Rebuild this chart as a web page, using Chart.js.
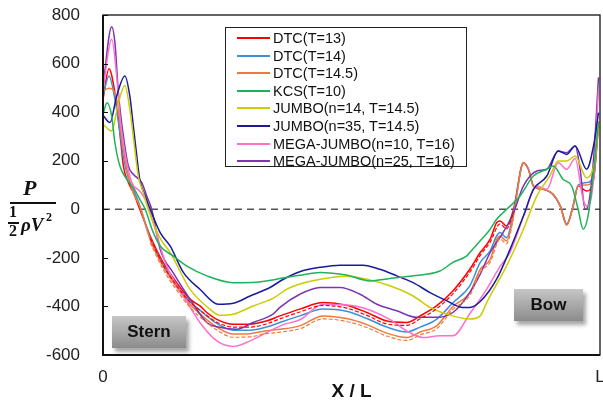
<!DOCTYPE html>
<html>
<head>
<meta charset="utf-8">
<script src="https://cdn.jsdelivr.net/npm/chart.js@4.4.1/dist/chart.umd.min.js"></script>
<style>
    html, body { margin: 0; padding: 0; background: #fff; }
    #wrap { position: relative; width: 603px; height: 403px; overflow: hidden; font-family: Arial, "Liberation Sans", sans-serif; }
    #chart { position: absolute; left: 0; top: 0; }
    .tag {
        position: absolute;
        background: linear-gradient(#c6c6c6, #8c8c8c);
        box-shadow: 3px 4px 4px rgba(0, 0, 0, 0.35);
        font-weight: bold; font-size: 17px; color: #111;
        display: flex; align-items: center; justify-content: center;
    }
    #legend {
        position: absolute; left: 225px; top: 27px; width: 240px; height: 138px;
        border: 1.5px solid #222; background: #fff;
    }
    .leg-row { position: absolute; left: 0; height: 18px; font-size: 14.5px; color: #111; white-space: nowrap; }
    .leg-line { position: absolute; left: 11px; top: 8px; width: 33px; height: 2px; }
    .leg-text { position: absolute; left: 47px; top: 0; line-height: 18px; }
    .ytitle { position: absolute; font-weight: bold; color: #111; }
    .serif { font-family: "Liberation Serif", "DejaVu Serif", serif; }
</style>
</head>
<body>
<div id="wrap">
    <canvas id="chart" width="603" height="403"></canvas>
    <div id="legend"></div>
    <div class="tag" style="left:112px; top:316px; width:74px; height:32px;">Stern</div>
    <div class="tag" style="left:514px; top:289px; width:69px; height:32px;">Bow</div>
    <!-- y axis title: P / (1/2 rho V^2) -->
    <div class="ytitle serif" style="left:23px; top:175px; font-size:22px; font-style:italic;">P</div>
    <div style="position:absolute; left:10px; top:202px; width:46px; height:2px; background:#111;"></div>
    <div class="ytitle serif" style="left:9px; top:203px; font-size:16px;">1</div>
    <div style="position:absolute; left:8px; top:222px; width:11px; height:1.5px; background:#111;"></div>
    <div class="ytitle serif" style="left:9px; top:222px; font-size:16px;">2</div>
    <div class="ytitle serif" style="left:21px; top:214px; font-size:19px; font-style:italic;">ρV</div>
    <div class="ytitle serif" style="left:46px; top:210px; font-size:12px;">2</div>
</div>
<script>
// X / L positions (shared by the three DTC runs)
const xDtc = [0, 0.012, 0.024, 0.031, 0.036, 0.041, 0.051, 0.061, 0.074, 0.095, 0.121, 0.148, 0.175, 0.195, 0.209, 0.229,
    0.262, 0.296, 0.329, 0.356, 0.396, 0.443, 0.490, 0.531, 0.571, 0.611, 0.638, 0.671, 0.704, 0.738, 0.759, 0.779,
    0.792, 0.799, 0.812, 0.826, 0.846, 0.856, 0.866, 0.886, 0.906, 0.920, 0.933, 0.946, 0.956, 0.973, 0.987, 0.997];
const yDtc13 = [453, 579, 480, 370, 274, 178, 110, 69, 0, -110, -219, -302, -370, -398, -425, -453,
    -473, -473, -460, -439, -411, -384, -395, -425, -460, -466, -439, -398, -336, -247, -178, -123,
    -55, -48, -69, 0, 192, 165, 96, 82, 60, 14, -62, 14, 96, 75, 123, 343];
const yDtc14 = [466, 549, 453, 360, 290, 215, 130, 82, 15, -118, -228, -312, -382, -415, -440, -470,
    -498, -498, -485, -466, -439, -411, -420, -450, -485, -505, -485, -453, -385, -315, -219, -171,
    -110, -96, -117, -14, 190, 165, 96, 82, 60, 14, -62, 16, 100, 110, 140, 362];
const yDtc145 = [487, 498, 480, 411, 320, 247, 137, 68, 12, -125, -235, -320, -392, -430, -455, -485,
    -514, -512, -500, -494, -480, -439, -450, -475, -510, -528, -505, -480, -400, -343, -247, -206,
    -125, -110, -130, -27, 192, 165, 96, 82, 62, 14, -66, 14, 96, 100, 130, 363];

// dashed scatter bounds seen under the DTC runs (middle part only)
const xBand = [0.095, 0.121, 0.148, 0.175, 0.209, 0.229, 0.262, 0.296, 0.329, 0.356, 0.396, 0.443, 0.490,
    0.531, 0.571, 0.611, 0.638, 0.671, 0.704, 0.738, 0.759, 0.779, 0.799, 0.812, 0.826];
const yDtc13Band = [-120, -230, -314, -382, -437, -465, -485, -485, -472, -451, -423, -396, -407,
    -437, -472, -478, -451, -410, -348, -259, -190, -135, -60, -81, -12];
const yDtc145Band = [-137, -247, -332, -404, -467, -497, -527, -525, -512, -506, -492, -451, -462,
    -487, -522, -540, -517, -492, -412, -355, -259, -218, -122, -142, -39];

const xKcs = [0, 0.008, 0.0175, 0.024, 0.034, 0.048, 0.061, 0.074, 0.085, 0.100, 0.115, 0.141, 0.168, 0.209, 0.262,
    0.309, 0.349, 0.396, 0.437, 0.490, 0.537, 0.577, 0.624, 0.678, 0.704, 0.732, 0.738, 0.759, 0.779, 0.792, 0.805,
    0.839, 0.866, 0.893, 0.906, 0.926, 0.943, 0.956, 0.966, 0.976, 0.987, 0.997];
const yKcs = [391, 439, 384, 274, 178, 123, 89, 41, 0, -90, -151, -192, -233, -274, -302,
    -300, -288, -272, -260, -271, -295, -285, -274, -254, -219, -192, -178, -130, -82, -41, -14,
    55, 137, 165, 178, 123, 96, 0, -82, -27, 151, 357];

const xJumbo14 = [0, 0.0175, 0.031, 0.044, 0.054, 0.064, 0.071, 0.081, 0.091, 0.115, 0.135, 0.175, 0.215, 0.235, 0.262,
    0.302, 0.342, 0.370, 0.396, 0.437, 0.490, 0.531, 0.577, 0.624, 0.658, 0.692, 0.738, 0.759, 0.772, 0.812,
    0.846, 0.873, 0.899, 0.916, 0.933, 0.950, 0.973, 0.990, 0.997];
const yJumbo14 = [350, 322, 439, 510, 411, 247, 137, 69, 0, -120, -177, -329, -411, -436, -432,
    -398, -367, -329, -308, -288, -276, -288, -315, -357, -404, -432, -452, -439, -384, -233,
    -82, 55, 137, 199, 199, 219, 130, 206, 343];

const xJumbo35 = [0, 0.014, 0.0275, 0.044, 0.054, 0.061, 0.068, 0.074, 0.085, 0.095, 0.115, 0.135, 0.162, 0.195, 0.232,
    0.262, 0.296, 0.336, 0.363, 0.396, 0.437, 0.477, 0.523, 0.557, 0.591, 0.624, 0.658, 0.692, 0.724, 0.738,
    0.759, 0.792, 0.819, 0.846, 0.866, 0.893, 0.916, 0.933, 0.950, 0.973, 0.987, 0.997];
const yJumbo35 = [387, 357, 466, 549, 466, 343, 219, 123, 55, 0, -96, -151, -261, -329, -391,
    -387, -357, -322, -288, -257, -239, -230, -230, -247, -274, -302, -343, -377, -404, -404,
    -380, -288, -165, -27, 82, 137, 240, 226, 261, 165, 261, 398];

const xMega10 = [0, 0.0175, 0.0275, 0.034, 0.044, 0.058, 0.074, 0.085, 0.095, 0.128, 0.162, 0.195, 0.229, 0.262, 0.296,
    0.329, 0.363, 0.396, 0.443, 0.510, 0.577, 0.611, 0.644, 0.678, 0.704, 0.738, 0.772, 0.799, 0.819, 0.846,
    0.873, 0.893, 0.916, 0.933, 0.950, 0.966, 0.973, 0.987, 0.997];
const yMega10 = [494, 700, 549, 384, 233, 110, 75, 41, -14, -233, -357, -466, -542, -565, -542,
    -508, -475, -455, -391, -399, -453, -501, -528, -521, -521, -430, -329, -235, -178, -30,
    96, 82, 192, 165, 209, 41, 14, 123, 494];

const xMega25 = [0, 0.0175, 0.024, 0.031, 0.041, 0.051, 0.061, 0.078, 0.088, 0.098, 0.115, 0.141, 0.175, 0.209, 0.235,
    0.269, 0.302, 0.342, 0.356, 0.396, 0.437, 0.477, 0.517, 0.551, 0.591, 0.631, 0.671, 0.704, 0.738, 0.759,
    0.779, 0.805, 0.826, 0.846, 0.873, 0.893, 0.916, 0.933, 0.950, 0.960, 0.970, 0.976, 0.987, 0.997];
const yMega25 = [507, 752, 686, 480, 302, 178, 144, 110, 55, 0, -165, -261, -370, -466, -486,
    -494, -466, -432, -404, -350, -322, -322, -350, -391, -418, -445, -445, -425, -343, -267,
    -178, -96, -14, 96, 158, 165, 240, 233, 261, 165, 0, 14, 206, 543];

const seriesLabels = ['DTC(T=13)', 'DTC(T=14)', 'DTC(T=14.5)', 'KCS(T=10)', 'JUMBO(n=14, T=14.5)',
    'JUMBO(n=35, T=14.5)', 'MEGA-JUMBO(n=10, T=16)', 'MEGA-JUMBO(n=25, T=16)'];
const seriesColors = ['#ff0000', '#3d8fd6', '#f07a3c', '#1fb25a', '#cccc00', '#1a1a9c', '#ff6fcf', '#7a35b0'];
const yTicks = [-600, -400, -200, 0, 200, 400, 600, 800];

const seriesX = [xDtc, xDtc, xDtc, xKcs, xJumbo14, xJumbo35, xMega10, xMega25];
const seriesY = [yDtc13, yDtc14, yDtc145, yKcs, yJumbo14, yJumbo35, yMega10, yMega25];

const toPoints = (xs, ys) => xs.map((x, k) => ({ x: x, y: ys[k] }));

// draw order: later entries on top
const drawOrder = [3, 4, 5, 6, 7, 2, 1, 0];

const datasets = [
    {
        label: 'DTC(T=14.5) band',
        data: toPoints(xBand, yDtc145Band),
        borderColor: seriesColors[2],
        borderWidth: 1.2,
        borderDash: [4, 2],
        pointRadius: 0,
        cubicInterpolationMode: 'monotone'
    },
    {
        label: 'DTC(T=13) band',
        data: toPoints(xBand, yDtc13Band),
        borderColor: seriesColors[0],
        borderWidth: 1.2,
        borderDash: [4, 2],
        pointRadius: 0,
        cubicInterpolationMode: 'monotone'
    }
].concat(drawOrder.map(i => ({
    label: seriesLabels[i],
    data: toPoints(seriesX[i], seriesY[i]),
    borderColor: seriesColors[i],
    borderWidth: 1.5,
    pointRadius: 0,
    fill: false,
    cubicInterpolationMode: 'monotone'
})));

// Legend box (HTML)
const legend = document.getElementById('legend');
seriesLabels.forEach((label, i) => {
    const row = document.createElement('div');
    row.className = 'leg-row';
    row.style.top = (1 + i * 17.6) + 'px';
    row.innerHTML = `<div class="leg-line" style="background:${seriesColors[i]}"></div><div class="leg-text">${label}</div>`;
    legend.appendChild(row);
});

// Frame, inside ticks and dashed zero line
const framePlugin = {
    id: 'frame',
    beforeDatasetsDraw(chart) {
        const { ctx, chartArea: a, scales } = chart;
        const y0 = scales.y.getPixelForValue(0);
        ctx.save();
        ctx.strokeStyle = '#555';
        ctx.lineWidth = 1.5;
        ctx.setLineDash([7, 5]);
        ctx.beginPath();
        ctx.moveTo(a.left, y0);
        ctx.lineTo(a.right, y0);
        ctx.stroke();
        ctx.restore();
    },
    afterDraw(chart) {
        const { ctx, chartArea: a, scales } = chart;
        ctx.save();
        ctx.strokeStyle = '#111';
        ctx.lineWidth = 1.3;
        ctx.strokeRect(a.left, a.top, a.right - a.left, a.bottom - a.top);
        ctx.lineWidth = 2;
        ctx.beginPath();
        ctx.moveTo(a.left, a.top);
        ctx.lineTo(a.left, a.bottom);
        ctx.lineTo(a.right, a.bottom);
        ctx.stroke();
        ctx.lineWidth = 1;
        yTicks.forEach(v => {
            const py = Math.round(scales.y.getPixelForValue(v)) + 0.5;
            ctx.beginPath();
            ctx.moveTo(a.left, py);
            ctx.lineTo(a.left + 5, py);
            ctx.stroke();
        });
        ctx.restore();
    }
};

new Chart(document.getElementById('chart'), {
    type: 'line',
    data: { datasets },
    options: {
        responsive: false,
        animation: false,
        layout: { padding: { left: 0, top: 15, right: 3, bottom: 0 } },
        plugins: { legend: { display: false }, tooltip: { enabled: false } },
        scales: {
            x: {
                type: 'linear',
                min: 0,
                max: 1,
                grid: { display: false },
                border: { display: false },
                afterBuildTicks: s => { s.ticks = [{ value: 0 }, { value: 1 }]; },
                afterFit: s => { s.height = 48; s.paddingLeft = 0; s.paddingRight = 0; },
                ticks: {
                    padding: 4,
                    color: '#222',
                    font: { family: 'Arial, "Liberation Sans"', size: 17 },
                    callback: v => (v === 0 ? '0' : 'L')
                },
                title: {
                    display: true,
                    text: 'X / L',
                    color: '#111',
                    padding: { top: 0, bottom: 0 },
                    font: { family: 'Arial, "Liberation Sans"', size: 19, weight: 'bold' }
                }
            },
            y: {
                min: -600,
                max: 800,
                grid: { display: false },
                border: { display: false },
                afterBuildTicks: s => { s.ticks = yTicks.map(v => ({ value: v })); },
                afterFit: s => { s.width = 103; s.paddingTop = 0; s.paddingBottom = 0; },
                ticks: {
                    padding: 15,
                    color: '#222',
                    font: { family: 'Arial, "Liberation Sans"', size: 17 }
                }
            }
        }
    },
    plugins: [framePlugin]
});
</script>
</body>
</html>
